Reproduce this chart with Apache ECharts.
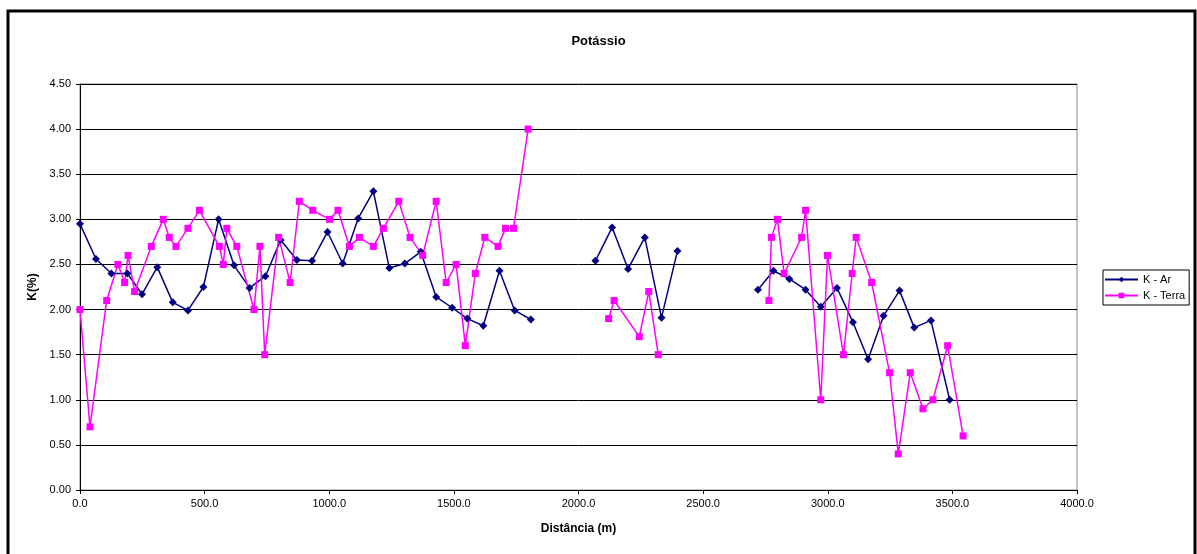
<!doctype html>
<html>
<head>
    <meta charset="utf-8">
    <title>Potássio</title>
    <script src="https://cdnjs.cloudflare.com/ajax/libs/echarts/6.0.0/echarts.min.js"></script>
</head>
<style>
    html, body { margin: 0; padding: 0; background: #fff; }
    #chart { width: 1197px; height: 554px; }
</style>
<body>
<div id="chart"></div>
<script>
  // distance (m) and K (%) per series; null marks a gap in the line
  var arDist = [0, 64, 126, 190, 249, 310, 372, 433, 495, 556, 618, 680, 744, 805, 870, 931, 993, 1054, 1116, 1177,
    1241, 1303, 1367, 1429, 1493, 1554, 1618, 1683, 1744, 1809, 1950,
    2068, 2135, 2199, 2266, 2333, 2397, 2550,
    2720, 2782, 2846, 2911, 2972, 3037, 3101, 3162, 3224, 3288, 3347, 3414, 3489];
  var arK = [2.95, 2.56, 2.40, 2.40, 2.17, 2.47, 2.08, 1.99, 2.25, 3.00, 2.49, 2.24, 2.37, 2.77, 2.55, 2.54, 2.86, 2.51, 3.01, 3.31,
    2.46, 2.51, 2.64, 2.14, 2.02, 1.90, 1.82, 2.43, 1.99, 1.89, null,
    2.54, 2.91, 2.45, 2.80, 1.91, 2.65, null,
    2.22, 2.43, 2.34, 2.22, 2.03, 2.24, 1.86, 1.45, 1.93, 2.21, 1.80, 1.88, 1.00];

  var terraDist = [0, 40, 107, 152, 179, 193, 219, 286, 334, 358, 385, 433, 479, 559, 575, 589, 629, 698, 722, 741,
    797, 843, 880, 934, 1001, 1035, 1081, 1121, 1177, 1217, 1279, 1324, 1375, 1429, 1469, 1509, 1546, 1586, 1624,
    1677, 1707, 1739, 1798, 1950,
    2121, 2143, 2244, 2282, 2320, 2550,
    2764, 2774, 2798, 2825, 2895, 2911, 2972, 2999, 3063, 3098, 3114, 3176, 3248, 3283, 3331, 3382, 3422, 3481, 3543];
  var terraK = [2.0, 0.7, 2.1, 2.5, 2.3, 2.6, 2.2, 2.7, 3.0, 2.8, 2.7, 2.9, 3.1, 2.7, 2.5, 2.9, 2.7, 2.0, 2.7, 1.5,
    2.8, 2.3, 3.2, 3.1, 3.0, 3.1, 2.7, 2.8, 2.7, 2.9, 3.2, 2.8, 2.6, 3.2, 2.3, 2.5, 1.6, 2.4, 2.8,
    2.7, 2.9, 2.9, 4.0, null,
    1.9, 2.1, 1.7, 2.2, 1.5, null,
    2.1, 2.8, 3.0, 2.4, 2.8, 3.1, 1.0, 2.6, 1.5, 2.4, 2.8, 2.3, 1.3, 0.4, 1.3, 0.9, 1.0, 1.6, 0.6];

  function pairs(xs, ys) {
    return xs.map(function (x, i) { return [x, ys[i] === null ? '-' : ys[i]]; });
  }

  var font = 'Liberation Sans, Arial, sans-serif';
  var myChart = echarts.init(document.getElementById('chart'));

  myChart.setOption({
    animation: false,
    textStyle: { fontFamily: font },
    title: {
      text: 'Potássio',
      left: 'center',
      top: 30,
      textStyle: { fontSize: 13, fontWeight: 'bold', color: '#000', fontFamily: font }
    },
    graphic: [{
      type: 'rect',
      shape: { x: 8, y: 11, width: 1187, height: 560 },
      style: { fill: 'none', stroke: '#000', lineWidth: 3 },
      silent: true
    }],
    legend: {
      orient: 'vertical',
      left: 1103,
      top: 270,
      padding: [3, 4, 3, 1],
      itemGap: 3,
      itemWidth: 33,
      itemHeight: 7,
      borderColor: '#000',
      borderWidth: 1,
      textStyle: { fontSize: 11, lineHeight: 13, color: '#000', fontFamily: font },
      data: ['K - Ar', 'K - Terra']
    },
    grid: { left: 80, right: 120, top: 84, bottom: 64, show: true, borderColor: '#888', borderWidth: 1 },
    xAxis: {
      type: 'value',
      min: 0,
      max: 4000,
      interval: 500,
      name: 'Distância (m)',
      nameLocation: 'middle',
      nameGap: 33,
      nameTextStyle: { fontSize: 12, fontWeight: 'bold', color: '#000', fontFamily: font },
      axisLine: { lineStyle: { color: '#000' } },
      axisTick: { show: true, length: 4, lineStyle: { color: '#000' } },
      axisLabel: { fontSize: 11, color: '#000', margin: 8, formatter: function (v) { return v.toFixed(1); } },
      splitLine: { show: false }
    },
    yAxis: {
      type: 'value',
      min: 0,
      max: 4.5,
      interval: 0.5,
      name: 'K(%)',
      nameLocation: 'middle',
      nameGap: 41,
      nameTextStyle: { fontSize: 12, fontWeight: 'bold', color: '#000', fontFamily: font },
      axisLine: { show: true, lineStyle: { color: '#000' } },
      axisTick: { show: true, length: 4, lineStyle: { color: '#000' } },
      axisLabel: { fontSize: 11, color: '#000', margin: 9, formatter: function (v) { return v.toFixed(2); } },
      splitLine: { show: true, lineStyle: { color: '#000', width: 1 } }
    },
    series: [
      {
        name: 'K - Ar',
        type: 'line',
        data: pairs(arDist, arK),
        connectNulls: false,
        symbol: 'diamond',
        symbolSize: 8,
        color: '#000080',
        lineStyle: { width: 1.5, color: '#000080' },
        itemStyle: { color: '#000080' }
      },
      {
        name: 'K - Terra',
        type: 'line',
        data: pairs(terraDist, terraK),
        connectNulls: false,
        symbol: 'rect',
        symbolSize: 7,
        color: '#ff00ff',
        lineStyle: { width: 1.5, color: '#ff00ff' },
        itemStyle: { color: '#ff00ff' }
      }
    ]
  });
</script>
</body>
</html>
